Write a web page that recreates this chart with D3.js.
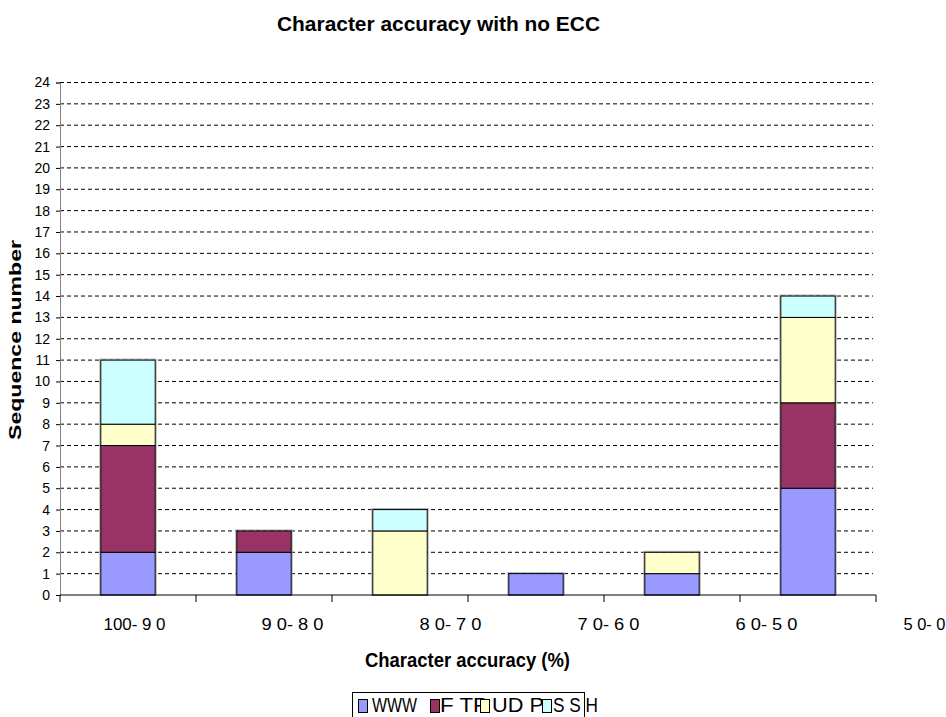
<!DOCTYPE html>
<html><head><meta charset="utf-8">
<script src="https://cdn.jsdelivr.net/npm/d3@7"></script>
<style>body{margin:0;background:#fff;font-family:"Liberation Sans",Arial,sans-serif}</style>
</head><body><svg id="c" width="946" height="717"></svg>
<script>
const categories = ["100- 9 0", "9 0- 8 0", "8 0- 7 0", "7 0- 6 0", "6 0- 5 0", "5 0- 0"];
const seriesNames = ["WWW", "FTP", "UDP", "SSH"];
const legendLabels = ["WWW", "F TP", "UD P", "S S H"];
const www = [2, 2, 0, 1, 1, 5];
const ftp = [5, 1, 0, 0, 0, 4];
const udp = [1, 0, 3, 0, 1, 4];
const ssh = [3, 0, 1, 0, 0, 1];
const yTicks = d3.range(0, 25);
const colors = ["#9999FF", "#993366", "#FFFFCC", "#CCFFFF"];

const FONT = "Liberation Sans, Arial, sans-serif";
const svg = d3.select("#c").attr("font-family", FONT);
const L = 60, R = 876, T = 82.5, B = 595;
const x = d3.scaleBand().domain(categories).range([L, R]).paddingInner(0.6).paddingOuter(0.3);
const xLab = d3.scalePoint().domain(categories).range([134, 924]);
const y = d3.scaleLinear().domain([0, 24]).range([B, T]);

const rows = categories.map((c, i) => ({cat: c, WWW: www[i], FTP: ftp[i], UDP: udp[i], SSH: ssh[i]}));
const stack = d3.stack().keys(seriesNames)(rows);

// grid
svg.append("g").selectAll("line").data(yTicks.filter(d => d > 0)).join("line")
  .attr("x1", L).attr("x2", R - 3).attr("y1", d => y(d)).attr("y2", d => y(d))
  .attr("stroke", "#000").attr("stroke-width", 1).attr("stroke-dasharray", "4,3");

// bars (with light grey outer halo like the reference)
const totals = rows.map(r => r.WWW + r.FTP + r.UDP + r.SSH);
svg.append("g").selectAll("rect").data(categories.filter((c, i) => totals[i] > 0)).join("rect")
  .attr("x", c => x(c) - 1).attr("width", x.bandwidth() + 2)
  .attr("y", c => y(totals[categories.indexOf(c)]) - 1)
  .attr("height", c => B - y(totals[categories.indexOf(c)]) + 1)
  .attr("fill", "none").attr("stroke", "#b0b0b0").attr("stroke-width", 1);
stack.forEach((s, si) => {
  svg.append("g").selectAll("rect").data(s.filter(d => d[1] > d[0])).join("rect")
    .attr("x", d => x(d.data.cat)).attr("width", x.bandwidth())
    .attr("y", d => y(d[1])).attr("height", d => y(d[0]) - y(d[1]))
    .attr("fill", colors[si]).attr("stroke", "#000").attr("stroke-width", 1);
});

// y axis
const ya = svg.append("g").attr("transform", `translate(${L},0)`)
  .call(d3.axisLeft(y).tickValues(yTicks).tickSize(4).tickPadding(6).tickFormat(d3.format("d")));
ya.select(".domain").attr("stroke", "#808080");
ya.selectAll(".tick line").attr("stroke", "#000");
ya.selectAll("text").attr("font-family", FONT).attr("font-size", 14).attr("fill", "#000");

// x axis: boundary ticks
const bounds = d3.range(0, categories.length + 1).map(i => L + i * x.step());
const xg = svg.append("g");
xg.append("line").attr("x1", L).attr("x2", R).attr("y1", B).attr("y2", B).attr("stroke", "#000");
xg.selectAll(".bt").data(bounds).join("line").attr("class", "bt")
  .attr("x1", d => d).attr("x2", d => d).attr("y1", B).attr("y2", B + 7).attr("stroke", "#000");
const xa = svg.append("g").attr("transform", `translate(0,${B})`)
  .call(d3.axisBottom(xLab).tickSize(0).tickPadding(0));
xa.select(".domain").remove();
xa.selectAll("text").attr("font-family", FONT).attr("font-size", 17).attr("fill", "#000")
  .attr("y", 35).attr("dy", 0)
  .attr("textLength", (d, i) => i === categories.length - 1 ? 42 : 62)
  .attr("lengthAdjust", "spacingAndGlyphs");

// titles
svg.append("text").attr("x", 277).attr("y", 31)
  .attr("font-weight", "bold").attr("font-size", 21)
  .attr("textLength", 323).attr("lengthAdjust", "spacingAndGlyphs")
  .text("Character accuracy with no ECC");
svg.append("text").attr("x", 365).attr("y", 667)
  .attr("font-weight", "bold").attr("font-size", 21)
  .attr("textLength", 205).attr("lengthAdjust", "spacingAndGlyphs")
  .text("Character accuracy (%)");
svg.append("text").attr("transform", "translate(21,340) rotate(-90)").attr("text-anchor", "middle")
  .attr("font-weight", "bold").attr("font-size", 16)
  .attr("textLength", 200).attr("lengthAdjust", "spacingAndGlyphs")
  .text("Sequence number");

// legend
const lg = svg.append("g");
const lx = [358, 430, 480, 542];
const tx = [372, 440, 492, 553];
const tl = [45, 48, 52, 45];
legendLabels.forEach((t, i) => {
  lg.append("text").attr("x", tx[i]).attr("y", 712).attr("font-size", 20)
    .attr("textLength", tl[i]).attr("lengthAdjust", "spacingAndGlyphs").text(t);
});
legendLabels.forEach((t, i) => {
  lg.append("rect").attr("x", lx[i] + 0.5).attr("y", 699.5).attr("width", 9).attr("height", 13)
    .attr("fill", colors[i]).attr("stroke", "#000");
});
lg.append("rect").attr("x", 352.5).attr("y", 692.5).attr("width", 232).attr("height", 30)
  .attr("fill", "none").attr("stroke", "#000");
</script></body></html>
